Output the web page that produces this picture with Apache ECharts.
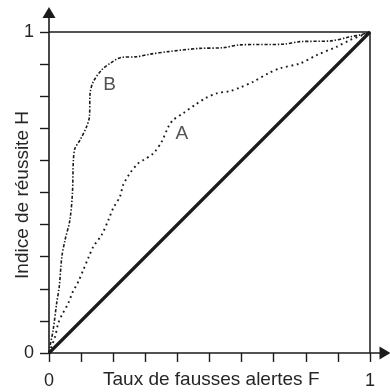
<!DOCTYPE html>
<html>
<head>
<meta charset="utf-8">
<script src="https://cdn.jsdelivr.net/npm/echarts@6/dist/echarts.min.js"></script>
<style>
  html, body { margin: 0; padding: 0; background: #fff; }
  #chart { width: 390px; height: 392px; }
</style>
</head>
<body>
<div id="chart"></div>
<script>
// ROC curves: hit rate H against false-alarm rate F
const curveAF = [0, 0.008, 0.019, 0.029, 0.040, 0.060, 0.073, 0.091, 0.107, 0.122, 0.138, 0.164, 0.185, 0.200, 0.221, 0.231, 0.252, 0.278, 0.294, 0.325, 0.351, 0.372, 0.387, 0.418, 0.455, 0.486, 0.522, 0.564, 0.595, 0.636, 0.683, 0.720, 0.782, 0.834, 0.896, 0.938, 0.978, 1];
const curveAH = [0, 0.020, 0.051, 0.093, 0.118, 0.155, 0.188, 0.222, 0.259, 0.295, 0.331, 0.368, 0.414, 0.451, 0.487, 0.523, 0.560, 0.591, 0.601, 0.622, 0.658, 0.705, 0.726, 0.747, 0.773, 0.793, 0.809, 0.816, 0.827, 0.845, 0.871, 0.887, 0.902, 0.928, 0.954, 0.975, 0.991, 1];

const curveBF = [0, 0.003, 0.013, 0.024, 0.032, 0.040, 0.050, 0.065, 0.073, 0.076, 0.081, 0.097, 0.117, 0.126, 0.128, 0.138, 0.164, 0.190, 0.226, 0.273, 0.315, 0.372, 0.470, 0.542, 0.595, 0.729, 0.782, 0.875, 0.938, 0.969, 1];
const curveBH = [0, 0.020, 0.072, 0.156, 0.207, 0.300, 0.352, 0.414, 0.498, 0.601, 0.638, 0.664, 0.705, 0.736, 0.809, 0.845, 0.882, 0.902, 0.921, 0.923, 0.931, 0.939, 0.949, 0.951, 0.960, 0.962, 0.970, 0.972, 0.985, 0.991, 1];

// Chance diagonal and the unit-square frame
const chanceF = [0, 1];
const chanceH = [0, 1];
const frameF = [0, 1, 1];
const frameH = [1, 1, 0];

// Curve names and where they are written
const curveNames = ['A', 'B'];
const nameF = [0.414, 0.189];
const nameH = [0.682, 0.837];

const tickValues = [0, 0.1, 0.2, 0.3, 0.4, 0.5, 0.6, 0.7, 0.8, 0.9, 1];
const labelValues = [0, 1];

const xTitle = 'Taux de fausses alertes F';
const yTitle = 'Indice de réussite H';

const zip = (a, b) => a.map((v, i) => [v, b[i]]);

const ink = '#1b1b1b';
const textInk = '#262626';
const font = 'Liberation Sans, Arial, Helvetica, sans-serif';

const chart = echarts.init(document.getElementById('chart'), null, { renderer: 'canvas' });

const axisCommon = {
  type: 'value',
  min: 0,
  splitLine: { show: false },
  axisLine: {
    show: true,
    onZero: false,
    symbol: ['none', 'triangle'],
    symbolSize: [13, 11],
    lineStyle: { color: ink, width: 1.6 }
  },
  axisTick: {
    show: true,
    inside: false,
    length: 9,
    customValues: tickValues,
    lineStyle: { color: ink, width: 1.4 }
  },
  axisLabel: {
    show: true,
    customValues: labelValues,
    formatter: v => String(v),
    color: textInk,
    fontFamily: font,
    fontSize: 18
  }
};

chart.setOption({
  animation: false,
  backgroundColor: '#fff',
  grid: { left: 49, top: 12.5, width: 336, height: 340.5, containLabel: false },
  xAxis: Object.assign({}, axisCommon, {
    max: 336 / 321,
    axisLabel: Object.assign({}, axisCommon.axisLabel, { margin: 19 })
  }),
  yAxis: Object.assign({}, axisCommon, {
    max: 340.5 / 321,
    axisLabel: Object.assign({}, axisCommon.axisLabel, { margin: 15 })
  }),
  graphic: [
    {
      type: 'text',
      left: 103,
      top: 370,
      style: { text: xTitle, fill: textInk, font: '19px ' + font }
    },
    {
      type: 'text',
      x: 23,
      y: 195,
      rotation: Math.PI / 2,
      style: { text: yTitle, fill: textInk, font: '19px ' + font, align: 'center', verticalAlign: 'middle' }
    }
  ],
  series: [
    {
      type: 'line',
      name: 'frame',
      data: zip(frameF, frameH),
      showSymbol: false,
      silent: true,
      lineStyle: { color: ink, width: 1.5 }
    },
    {
      type: 'line',
      name: 'chance',
      data: zip(chanceF, chanceH),
      showSymbol: false,
      silent: true,
      lineStyle: { color: ink, width: 3.2 }
    },
    {
      type: 'line',
      name: 'A',
      data: zip(curveAF, curveAH),
      smooth: 0.3,
      showSymbol: false,
      silent: true,
      lineStyle: { color: ink, width: 1.9, type: [1.8, 3.6], cap: 'butt' }
    },
    {
      type: 'line',
      name: 'B',
      data: zip(curveBF, curveBH),
      smooth: 0.3,
      showSymbol: false,
      silent: true,
      lineStyle: { color: ink, width: 1.6, type: [3.2, 1.8, 1.4, 1.8], cap: 'butt' }
    },
    {
      type: 'scatter',
      name: 'names',
      symbolSize: 0,
      silent: true,
      data: curveNames.map((n, i) => ({ name: n, value: [nameF[i], nameH[i]] })),
      label: {
        show: true,
        position: 'inside',
        formatter: p => p.name,
        color: textInk,
        fontFamily: font,
        fontSize: 19
      }
    }
  ]
});
</script>
</body>
</html>
